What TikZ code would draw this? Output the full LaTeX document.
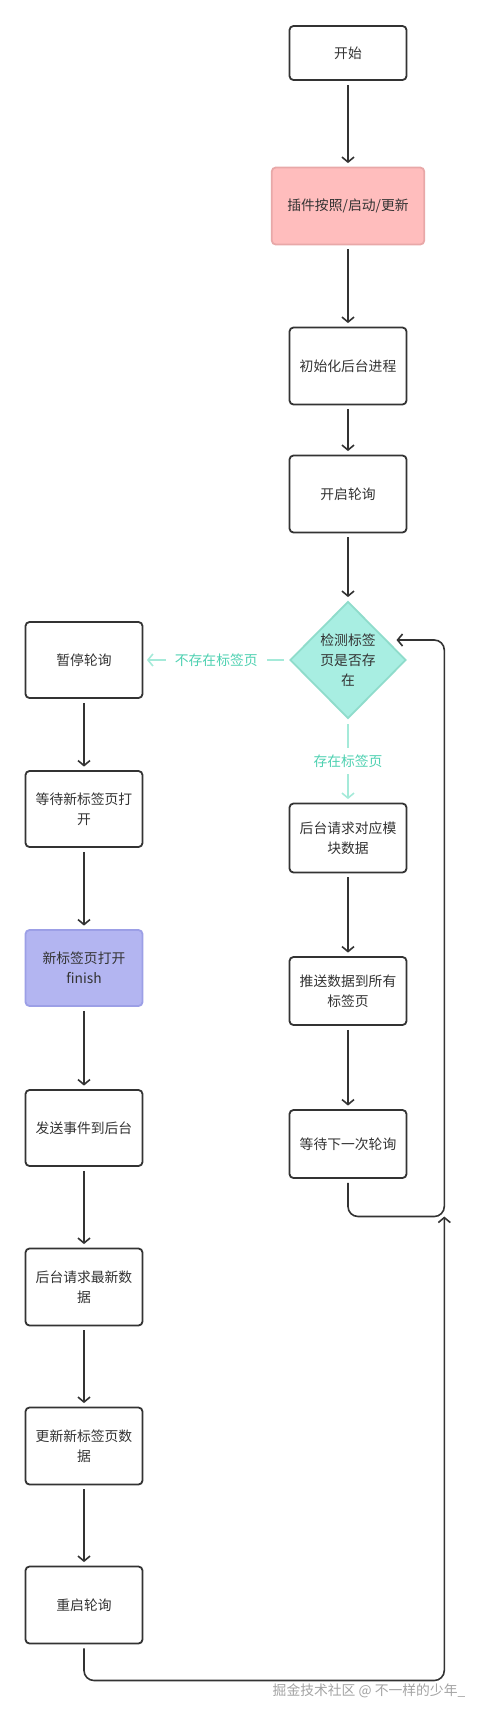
\documentclass[tikz,border=0pt]{standalone}
\usepackage{fontspec}
\setmainfont{Noto Sans CJK SC}
\usetikzlibrary{arrows.meta,shapes.geometric}

\definecolor{ink}{HTML}{333333}
\definecolor{pinkfill}{HTML}{FFBDBD}
\definecolor{pinkline}{HTML}{E8A8A8}
\definecolor{bluefill}{HTML}{B3B5F1}
\definecolor{blueline}{HTML}{9C9FE6}
\definecolor{tealfill}{HTML}{A8EEE2}
\definecolor{tealline}{HTML}{8FDCCB}
\definecolor{tealarrow}{HTML}{A5EAD9}
\definecolor{tealtext}{HTML}{4ED1B1}
\definecolor{markgray}{HTML}{A3A3A3}

\begin{document}
\begin{tikzpicture}[x=1pt,y=-1pt,>={Straight Barb[length=5pt,width=12pt]},
    txt/.style={font=\fontsize{13.8}{20}\selectfont},
    box/.style={txt,draw=ink,line width=1.8pt,rounded corners=4pt,fill=white,text=ink,
        minimum width=117pt,align=center,inner sep=0pt},
    pinkbox/.style={box,draw=pinkline,fill=pinkfill,minimum width=152.5pt},
    bluebox/.style={box,draw=blueline,fill=bluefill},
    decision/.style={txt,diamond,draw=tealline,fill=tealfill,line width=1.8pt,text=ink,
        minimum width=116pt,minimum height=117pt,align=center,inner sep=0pt},
    flow/.style={->,draw=ink,line width=1.6pt,shorten <=4pt,shorten >=3.5pt},
    branch/.style={->,draw=tealarrow,line width=1.6pt,shorten <=5pt,shorten >=3.5pt},
    branchlbl/.style={txt,fill=white,text=tealtext,inner xsep=9pt,inner ysep=7pt}]
\useasboundingbox (0,0) rectangle (477,1714);

% === Right column: main flow ===
\node[box,minimum height=54pt] (start) at (348,53) {开始};
\node[pinkbox,minimum height=77pt] (plugin) at (348,206) {插件按照/启动/更新};
\node[box,minimum height=77pt] (init) at (348,366) {初始化后台进程};
\node[box,minimum height=77pt] (poll) at (348,494) {开启轮询};
\node[decision] (check) at (348,660) {检测标签\\页是否存\\在};
\node[box,minimum height=69pt] (fetchmod) at (348,838) {后台请求对应模\\块数据};
\node[box,minimum height=68pt] (push) at (348,991) {推送数据到所有\\标签页};
\node[box,minimum height=68pt] (waitnext) at (348,1144) {等待下一次轮询};

% === Left column: new tab ===
\node[box,minimum height=76pt] (pause) at (84,660) {暂停轮询};
\node[box,minimum height=76pt] (waitnew) at (84,809) {等待新标签页打\\开};
\node[bluebox,minimum height=76pt] (newtab) at (84,968) {新标签页打开\\finish};
\node[box,minimum height=76pt] (sendevt) at (84,1128) {发送事件到后台};
\node[box,minimum height=77pt] (fetchnew) at (84,1287) {后台请求最新数\\据};
\node[box,minimum height=77pt] (update) at (84,1446) {更新新标签页数\\据};
\node[box,minimum height=77pt] (restart) at (84,1605) {重启轮询};

% === Connectors ===
\foreach \a/\b in {start/plugin, plugin/init, init/poll, poll/check,
                   fetchmod/push, push/waitnext,
                   pause/waitnew, waitnew/newtab, newtab/sendevt,
                   sendevt/fetchnew, fetchnew/update, update/restart} {
    \draw[flow] (\a.south) -- (\b.north);
}

\draw[branch] (check.west) -- node[branchlbl] {不存在标签页} (pause.east);
\draw[branch] (check.south) -- node[branchlbl] {存在标签页} (fetchmod.north);

% loops back to the check
\coordinate (checkin) at (393,640);
\coordinate (railtop) at (444.3,640);
\coordinate (railbot) at (444.3,1216.5);
\coordinate (railfoot) at (444.3,1680.5);
\draw[flow,rounded corners=10pt] (waitnext.south) |- (railbot) -- (railtop) -- (checkin);
\draw[flow,shorten >=0pt,rounded corners=10pt] (restart.south) |- (railfoot) -- (railbot);

\node[txt,text=markgray] (mark) at (369,1691) {掘金技术社区 @ 不一样的少年\_};
\end{tikzpicture}
\end{document}
